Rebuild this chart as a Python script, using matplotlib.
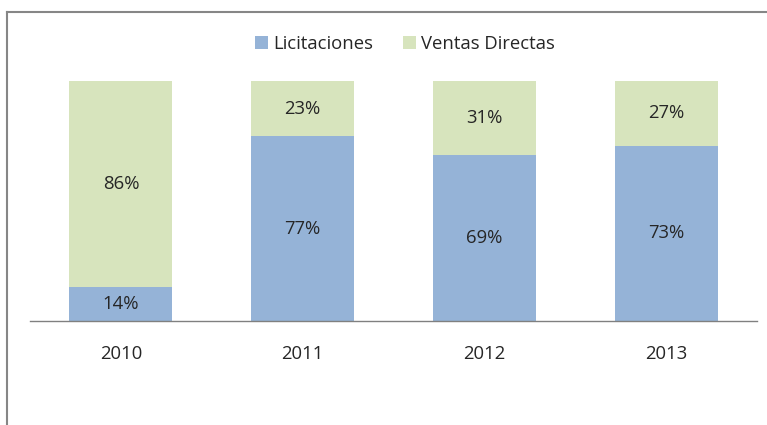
import matplotlib.pyplot as plt
from matplotlib.lines import Line2D

plt.rcParams['font.family'] = ['Open Sans', 'DejaVu Sans']

years = ['2010', '2011', '2012', '2013']
licitaciones = [14, 77, 69, 73]
ventas_directas = [86, 23, 31, 27]

blue = '#95b3d7'
green = '#d7e4bd'
text_color = '#262626'
fs = 13.3

W, H = 767, 425
fig = plt.figure(figsize=(W / 100, H / 100), dpi=100)
# axes placed in pixel coords: x 30..757, y 81..321 (from top)
ax = fig.add_axes([30 / W, 1 - 321 / H, 727 / W, 240 / H])

x = range(len(years))
ax.bar(x, licitaciones, width=0.567, color=blue, label='Licitaciones')
ax.bar(x, ventas_directas, width=0.567, bottom=licitaciones, color=green,
       label='Ventas Directas')

for i in x:
    ax.text(i, licitaciones[i] / 2, f'{licitaciones[i]}%', ha='center', va='center',
            fontsize=fs, color=text_color)
    ax.text(i, licitaciones[i] + ventas_directas[i] / 2, f'{ventas_directas[i]}%',
            ha='center', va='center', fontsize=fs, color=text_color)

ax.set_xlim(-0.5, 3.5)
ax.set_ylim(0, 100)
ax.set_xticks(list(x))
ax.set_xticklabels(years, fontsize=fs, color=text_color)
ax.tick_params(axis='x', length=0, pad=17)
ax.set_yticks([])
for s in ['top', 'right', 'left']:
    ax.spines[s].set_visible(False)
ax.spines['bottom'].set_color('#808080')
ax.spines['bottom'].set_linewidth(1)

leg = fig.legend(loc='center', bbox_to_anchor=(405 / W, 1 - 44 / H), ncol=2, frameon=False,
                 fontsize=fs, handlelength=0.7, handleheight=0.7, handletextpad=0.3,
                 columnspacing=1.6)
for t in leg.get_texts():
    t.set_color(text_color)

# outer chart border (cut off at right and bottom)
fig.add_artist(Line2D([7 / W, 7 / W], [0, 1 - 12 / H], color='#868686', lw=1.5))
fig.add_artist(Line2D([7 / W, 1], [1 - 12 / H, 1 - 12 / H], color='#868686', lw=1.5))

fig.savefig('out.png', dpi=100)
